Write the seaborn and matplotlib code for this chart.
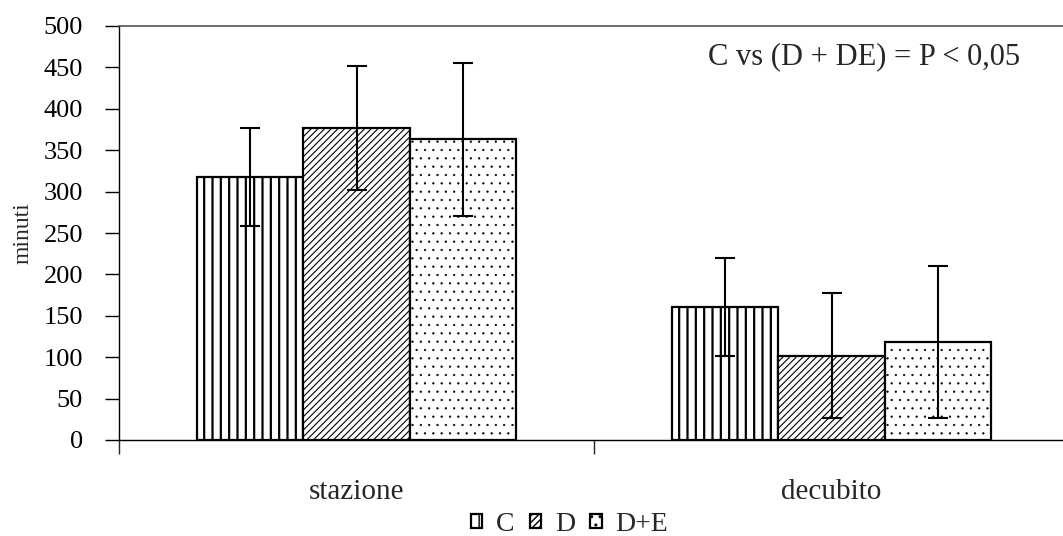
import matplotlib
matplotlib.use("Agg")
import matplotlib.pyplot as plt
import seaborn as sns
import pandas as pd

categories = ["stazione", "decubito"]
groups = ["C", "D", "D+E"]
means = {"C": [318, 161], "D": [377, 102], "D+E": [363, 118]}
errors = {"C": [59, 59], "D": [75, 75], "D+E": [92, 92]}
hatches = {"C": "||", "D": "/////", "D+E": ".."}
hatch_lw = {"C": 1.6, "D": 0.8, "D+E": 0.4}

rows = []
for g in groups:
    for i, cat in enumerate(categories):
        rows.append({"cat": cat, "group": g, "val": means[g][i], "err": errors[g][i]})
df = pd.DataFrame(rows)

sns.set_theme(style="white")
plt.rcParams["font.family"] = ["Liberation Serif", "DejaVu Serif"]
plt.rcParams["hatch.linewidth"] = 1.0
plt.rcParams["hatch.color"] = "black"

fig = plt.figure(figsize=(10.63, 5.36), dpi=100)
ax = fig.add_axes([119 / 1063, 96 / 536, 950 / 1063, 414 / 536])

sns.barplot(data=df, x="cat", y="val", hue="group", order=categories,
            hue_order=groups, errorbar=None, width=0.67, gap=0,
            legend=False, ax=ax)

bar_sets = list(ax.containers)
for g, cont in zip(groups, bar_sets):
    for i, bar in enumerate(cont.patches):
        bar.set_facecolor("white")
        bar.set_edgecolor("black")
        bar.set_linewidth(1.6)
        bar.set_hatch(hatches[g])
        if hasattr(bar, "set_hatch_linewidth"):
            bar.set_hatch_linewidth(hatch_lw[g])
        cx = bar.get_x() + bar.get_width() / 2
        ax.errorbar(cx, bar.get_height(), yerr=errors[g][i], color="black",
                    elinewidth=1.5, capsize=7.5, capthick=1.5, zorder=5)

ax.set_ylim(0, 500)
ax.set_xlim(-0.5, 1.5)
ax.set_yticks(range(0, 501, 50))
ax.tick_params(axis="y", labelsize=19, length=10, width=1, direction="out",
               left=True, pad=16, colors="black")
ax.tick_params(axis="x", which="major", labelsize=21, length=0, pad=28)
ax.set_xticks([-0.5, 0.5, 1.5], minor=True)
ax.tick_params(axis="x", which="minor", length=10, width=1, direction="out",
               bottom=True)

for side in ["left", "bottom"]:
    ax.spines[side].set_color("black")
    ax.spines[side].set_linewidth(1)
ax.spines["right"].set_visible(False)
ax.spines["top"].set_color("#555555")
ax.spines["top"].set_linewidth(1.2)

ax.set_xlabel("")
ax.set_ylabel("minuti", fontsize=17)
ax.yaxis.set_label_coords(-0.09, 0.5)

ax.text(0.62, 0.925, "C vs (D + DE) = P < 0,05", transform=ax.transAxes,
        fontsize=22, va="center", ha="left")

fig.legend([c.patches[0] for c in bar_sets], groups, loc="center",
           bbox_to_anchor=(0.536, 0.021), ncol=3, frameon=False,
           fontsize=20, handlelength=0.4, handleheight=0.4,
           handletextpad=0.5, columnspacing=0.55, borderpad=0)

fig.savefig("out.png", dpi=100)
